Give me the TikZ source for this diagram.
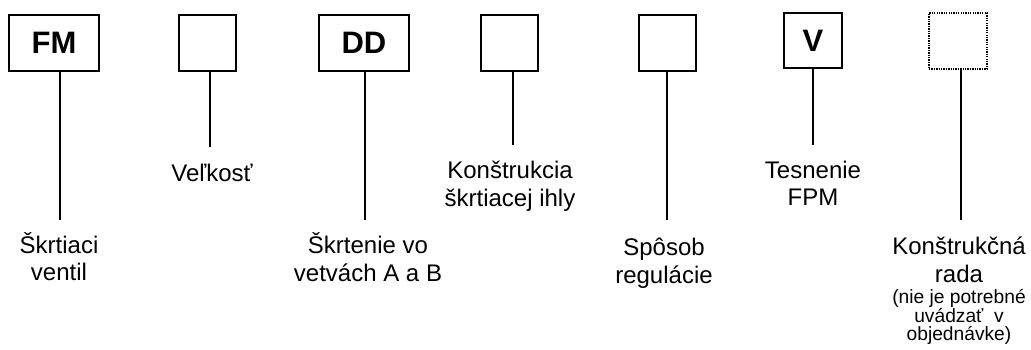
\documentclass[tikz,border=0pt]{standalone}
\usepackage{fontspec}
\setmainfont{Liberation Sans}
\begin{document}
\begin{tikzpicture}[x=1pt,y=-1pt,
  codebox/.style={draw=black, line width=1.8pt, inner sep=0pt, font=\bfseries\fontsize{31}{34}\selectfont},
  dotbox/.style={draw=black, line width=1.3pt, dash pattern=on 1.3pt off 1.1pt, inner sep=0pt},
  lead/.style={draw=black, line width=1.6pt},
  lbl/.style={anchor=base, align=center, inner sep=0pt, font=\fontsize{24}{27.5}\selectfont},
  small/.style={anchor=base, align=center, inner sep=0pt, font=\fontsize{19.2}{17.3}\selectfont}]
\useasboundingbox (0,0) rectangle (1031,349);
% boxes
\node[codebox, minimum width=90pt, minimum height=56pt] (b1) at (54,43) {FM};
\node[codebox, minimum width=57pt, minimum height=56pt] (b2) at (207.5,43) {};
\node[codebox, minimum width=90pt, minimum height=56pt] (b3) at (364,43) {DD};
\node[codebox, minimum width=57pt, minimum height=56pt] (b4) at (509.5,43) {};
\node[codebox, minimum width=57pt, minimum height=56pt] (b5) at (667.5,43) {};
\node[codebox, minimum width=58pt, minimum height=55pt] (b6) at (813,40.5) {V};
\node[dotbox, minimum width=58pt, minimum height=56pt] (b7) at (958,41) {};
% free ends of leads
\coordinate (e1) at (60,220);
\coordinate (e2) at (210,147);
\coordinate (e3) at (365,220);
\coordinate (e4) at (513,145);
\coordinate (e5) at (667,220);
\coordinate (e6) at (813,145);
\coordinate (e7) at (961,220);
\foreach \i in {1,...,7} {\draw[lead] (e\i |- b\i.south) -- (e\i);}
% labels (anchor=base is the baseline of the last line)
\node[lbl] (l1) at (59,280.5) {Škrtiaci\\ventil};
\node[lbl] (l2) at (212,181) {Veľkosť};
\node[lbl] (l3) at (368,281) {Škrtenie vo\\vetvách A a B};
\node[lbl] (l4) at (510,206) {Konštrukcia\\škrtiacej ihly};
\node[lbl] (l5) at (664,283) {Spôsob\\regulácie};
\node[lbl] (l6) at (813,205.5) {Tesnenie\\FPM};
\node[lbl] (l7) at (959,282) {Konštrukčná\\rada};
\node[small] (l7b) at (959,340) {(nie je potrebné\\uvádzať\ \ v\\objednávke)};
\end{tikzpicture}
\end{document}
